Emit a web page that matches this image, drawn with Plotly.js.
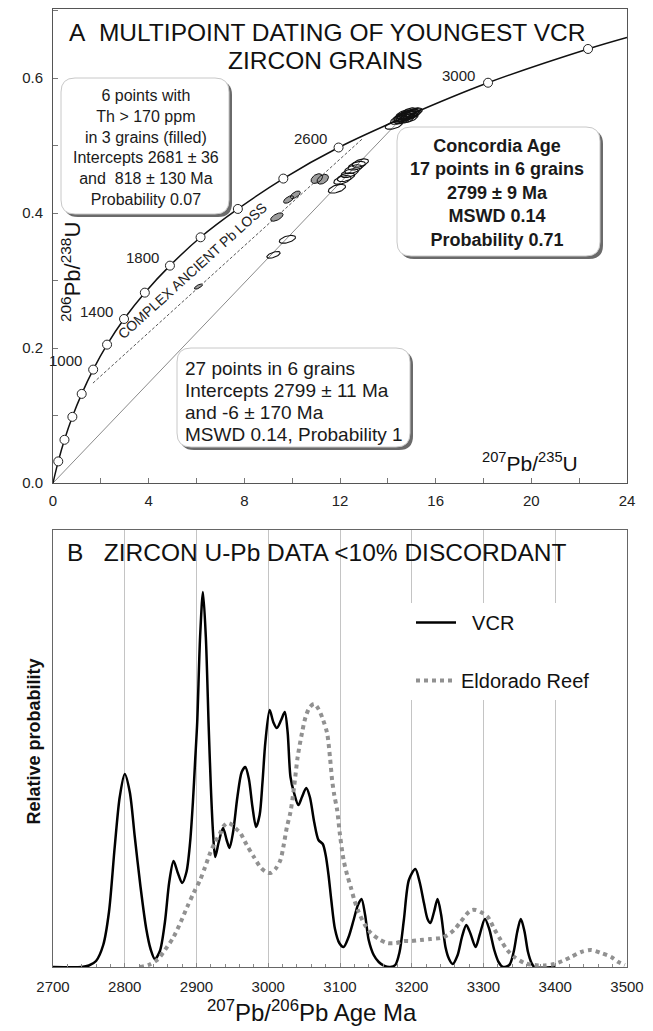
<!DOCTYPE html>
<html><head><meta charset="utf-8">
<script src="https://cdn.plot.ly/plotly-3.0.1.min.js"></script>
<style>html,body{margin:0;padding:0;background:#fff}#chart{width:653px;height:1031px}</style>
</head><body><div id="chart"></div>
<script>
// ---------- Panel A: concordia ----------
const concAges = [0,200,400,600,800,1000,1200,1400,1600,1800,2000,2200,2400,2600,2800,3000,3200];
const concX = [0,0.22,0.48,0.81,1.20,1.68,2.26,2.97,3.84,4.89,6.17,7.73,9.63,11.94,14.76,18.19,22.37];
const concY = [0,0.032,0.064,0.098,0.132,0.168,0.205,0.243,0.282,0.322,0.364,0.406,0.451,0.497,0.543,0.593,0.643];
const concEndX = [24.0];
const concEndY = [0.660];
const concLabels = ['1000','1400','1800','2600','3000'];

// discordia lines
const lowerLineX = [0, 14.3];
const lowerLineY = [0, 0.530];
const pbLossX = [1.67, 12.97];
const pbLossY = [0.148, 0.511];

// filled ellipses (Th > 170 ppm)
const filledX = [11.03, 11.28, 9.85, 10.13, 9.36, 6.08];
const filledY = [0.451, 0.450, 0.420, 0.427, 0.394, 0.291];
const filledSX = [0.24, 0.24, 0.21, 0.21, 0.26, 0.17];
const filledSY = [0.0072, 0.0072, 0.0056, 0.0056, 0.0062, 0.0038];
const filledRho = [0.4, 0.4, 0.6, 0.6, 0.6, 0.7];

// open ellipses (27 points)
const openX = [9.22, 9.80, 11.87, 12.10, 12.25, 12.40, 12.55, 12.70, 12.85, 14.25,
  14.45, 14.55, 14.62, 14.70, 14.75, 14.80, 14.85, 14.90, 14.95, 15.00, 15.05, 14.68, 14.78, 14.88, 14.60, 14.92, 15.10];
const openY = [0.338, 0.361, 0.436, 0.449, 0.453, 0.459, 0.465, 0.470, 0.474, 0.530,
  0.538, 0.541, 0.543, 0.542, 0.545, 0.544, 0.546, 0.544, 0.547, 0.546, 0.548, 0.546, 0.540, 0.549, 0.539, 0.541, 0.549];
const openSX = [0.28, 0.34, 0.36, 0.36, 0.36, 0.36, 0.36, 0.36, 0.34, 0.36,
  0.34, 0.34, 0.34, 0.34, 0.34, 0.34, 0.34, 0.34, 0.34, 0.34, 0.34, 0.34, 0.34, 0.34, 0.34, 0.34, 0.34];
const openSY = [0.0050, 0.0058, 0.0065, 0.0065, 0.0065, 0.0065, 0.0065, 0.0065, 0.0062, 0.0060,
  0.0068, 0.0068, 0.0068, 0.0068, 0.0068, 0.0068, 0.0068, 0.0068, 0.0068, 0.0068, 0.0068, 0.0068, 0.0068, 0.0068, 0.0068, 0.0068, 0.0068];
const openRho = [0.6, 0.5, 0.5, 0.5, 0.5, 0.5, 0.5, 0.5, 0.5, 0.5,
  0.5, 0.5, 0.5, 0.5, 0.5, 0.5, 0.5, 0.5, 0.5, 0.5, 0.5, 0.5, 0.5, 0.5, 0.5, 0.5, 0.5];

// ---------- Panel B: probability density ----------
const vcrAge = [2700,2740,2750,2760,2770,2778,2786,2793,2800,2807,2814,2822,2830,2836,2842,2849,2856,2862,2868,2874,2880,2886,2891,2895,2898,2901,2905,2909,2913,2917,2920,2923,2926,2931,2937,2942,2946,2951,2957,2963,2968,2973,2978,2983,2988,2992,2996,3002,3007,3012,3018,3023,3027,3031,3036,3042,3047,3053,3058,3064,3070,3076,3080,3084,3088,3093,3099,3105,3112,3119,3125,3130,3135,3140,3147,3154,3162,3170,3177,3183,3189,3196,3205,3211,3217,3222,3226,3231,3236,3241,3247,3252,3257,3264,3270,3276,3282,3289,3295,3302,3308,3315,3321,3327,3336,3342,3347,3352,3357,3362,3367,3371,3400];
const vcrProb = [0,0,1.5,6,22,55,120,170,193,175,130,80,38,18,8,16,45,85,106,94,84,95,124,165,205,245,330,375,330,240,180,135,110,125,139,127,119,135,170,195,200,188,160,140,152,185,225,257,245,239,247,255,235,190,174,162,170,179,170,145,127,123,112,92,66,38,24,20,30,47,62,68,52,27,12,5,1,0,2,15,47,87,98,85,64,48,44,55,68,52,20,8,3,12,30,42,33,20,33,48,38,17,5,0,2,15,35,48,36,15,4,0,0];
const eldAge = [2821,2833,2845,2856,2868,2878,2887,2896,2905,2912,2919,2926,2933,2938,2943,2948,2954,2961,2970,2980,2990,2997,3003,3010,3017,3021,3026,3031,3036,3041,3047,3052,3058,3064,3070,3076,3082,3086,3089,3092,3096,3100,3105,3110,3115,3120,3126,3134,3143,3154,3166,3178,3189,3200,3212,3226,3240,3250,3259,3268,3278,3284,3289,3296,3306,3315,3324,3333,3343,3357,3371,3385,3399,3410,3422,3436,3450,3464,3478,3488,3497];
const eldProb = [0,2,7,17,30,45,60,74,87,100,114,125,134,141,144,143,139,134,122,110,99,95,94,98,107,120,140,155,180,210,234,250,260,263,258,248,234,210,187,172,157,132,107,92,80,67,55,43,34,28,24,24,26,26,27,28,29,32,37,45,54,57,57,55,50,38,27,17,10,4,2,1.5,3,6,10,15,17,14,10,5,2];

// ---------- helpers ----------
const FONT = 'Liberation Sans, Arial, sans-serif';
const W = 653, H = 1031, ML = 53, MR = 26, MT = 9, MB = 64;
const PW = W - ML - MR, PH = H - MT - MB;
const X = px => (px - ML) / PW;
const Y = py => (H - MB - py) / PH;

function ellipses(cx, cy, sx, sy, rho) {
  const xs = [], ys = [], n = 48;
  for (let k = 0; k < cx.length; k++) {
    const r2 = Math.sqrt(1 - rho[k] * rho[k]);
    for (let i = 0; i <= n; i++) {
      const t = 2 * Math.PI * i / n;
      xs.push(cx[k] + sx[k] * Math.cos(t));
      ys.push(cy[k] + sy[k] * (rho[k] * Math.cos(t) + r2 * Math.sin(t)));
    }
    xs.push(null); ys.push(null);
  }
  return {xs, ys};
}
function roundRect(x0, y0, x1, y1, r) {
  const P = (x, y) => X(x) + ',' + Y(y);
  return 'M' + P(x0 + r, y0) + ' L' + P(x1 - r, y0) + ' Q' + P(x1, y0) + ' ' + P(x1, y0 + r) +
    ' L' + P(x1, y1 - r) + ' Q' + P(x1, y1) + ' ' + P(x1 - r, y1) +
    ' L' + P(x0 + r, y1) + ' Q' + P(x0, y1) + ' ' + P(x0, y1 - r) +
    ' L' + P(x0, y0 + r) + ' Q' + P(x0, y0) + ' ' + P(x0 + r, y0) + ' Z';
}
function box(x0, y0, x1, y1) {
  return [
    {type: 'path', xref: 'paper', yref: 'paper', layer: 'above', path: roundRect(x0 + 3, y0 + 3, x1 + 3, y1 + 3, 14),
     fillcolor: '#6a6a6a', line: {width: 0}},
    {type: 'path', xref: 'paper', yref: 'paper', layer: 'above', path: roundRect(x0, y0, x1, y1, 14),
     fillcolor: '#ffffff', line: {color: '#c8c8c8', width: 1}}
  ];
}

const fe = ellipses(filledX, filledY, filledSX, filledSY, filledRho);
const oe = ellipses(openX, openY, openSX, openSY, openRho);

const traces = [
  {x: lowerLineX, y: lowerLineY, xaxis: 'x', yaxis: 'y', mode: 'lines', line: {color: '#8a8a8a', width: 1}, showlegend: false, hoverinfo: 'skip'},
  {x: pbLossX, y: pbLossY, xaxis: 'x', yaxis: 'y', mode: 'lines', line: {color: '#555', width: 1, dash: '3px,2px'}, showlegend: false, hoverinfo: 'skip'},
  {x: concX.concat(concEndX), y: concY.concat(concEndY), xaxis: 'x', yaxis: 'y', mode: 'lines',
   line: {color: '#111', width: 1.5, shape: 'spline'}, showlegend: false, hoverinfo: 'skip'},
  {x: concX.slice(1), y: concY.slice(1), text: concAges.slice(1).map(a => a + ' Ma'), xaxis: 'x', yaxis: 'y', mode: 'markers',
   marker: {symbol: 'circle', size: 9, color: '#fff', line: {color: '#222', width: 1}}, showlegend: false},
  {x: fe.xs, y: fe.ys, xaxis: 'x', yaxis: 'y', mode: 'lines', fill: 'toself', fillcolor: '#9c9c9c',
   line: {color: '#111', width: 1}, showlegend: false, hoverinfo: 'skip'},
  {x: oe.xs, y: oe.ys, xaxis: 'x', yaxis: 'y', mode: 'lines',
   line: {color: '#111', width: 1.1}, showlegend: false, hoverinfo: 'skip'},
  {x: vcrAge, y: vcrProb, xaxis: 'x2', yaxis: 'y2', mode: 'lines', name: '\u00a0\u00a0VCR', legendgroup: 'a',
   line: {color: '#000', width: 2.5, shape: 'spline', smoothing: 0.8}},
  {x: eldAge, y: eldProb, xaxis: 'x2', yaxis: 'y2', mode: 'lines', name: 'Eldorado Reef', legendgroup: 'b',
   line: {color: '#919191', width: 4, dash: 'dot', shape: 'spline', smoothing: 0.8}}
];

const ann = [];
const A = (o) => ann.push(Object.assign({showarrow: false, xref: 'paper', yref: 'paper', xanchor: 'center', yanchor: 'middle',
  font: {family: FONT, size: 16, color: '#1a1a1a'}}, o));
// Panel titles
A({x: X(327), y: Y(32), text: 'A\u00a0\u00a0MULTIPOINT DATING OF YOUNGEST VCR', font: {family: FONT, size: 24.5, color: '#111'}});
A({x: X(325), y: Y(60), text: 'ZIRCON GRAINS', font: {family: FONT, size: 24.5, color: '#111'}});
A({x: X(65), y: Y(552), xanchor: 'left', text: 'B\u00a0\u00a0\u00a0ZIRCON U-Pb DATA &lt;10% DISCORDANT', font: {family: FONT, size: 24.5, color: '#111'}});
// concordia age labels
const labPos = [[65, 361], [96, 311], [142, 257], [310, 138], [458, 75]];
concLabels.forEach((t, i) => A({x: X(labPos[i][0]), y: Y(labPos[i][1]), text: t, font: {family: FONT, size: 15, color: '#222'}}));
// Pb loss label
A({x: X(192), y: Y(271), text: 'COMPLEX ANCIENT Pb LOSS', textangle: -42.2, font: {family: FONT, size: 14, color: '#222'}});
// axis titles
A({x: X(71), y: Y(272), text: '<sup>206</sup>Pb/<sup>238</sup>U', textangle: -90, font: {family: FONT, size: 22, color: '#111'}});
A({x: X(530), y: Y(462), text: '<sup>207</sup>Pb/<sup>235</sup>U', font: {family: FONT, size: 21, color: '#111'}});
A({x: X(312), y: Y(1011), text: '<sup>207</sup>Pb/<sup>206</sup>Pb Age Ma', font: {family: FONT, size: 24, color: '#111'}});
A({x: X(33.5), y: Y(742), text: '<b>Relative probability</b>', textangle: -90, font: {family: FONT, size: 18, color: '#111'}});
// box texts
A({x: X(145.5), y: Y(147.5), align: 'center',
   text: '6 points with<br>Th &gt; 170 ppm<br>in 3 grains (filled)<br>Intercepts 2681 ± 36<br>and \u00a0818 ± 130 Ma<br>Probability 0.07',
   font: {family: FONT, size: 16, color: '#1a1a1a'}});
A({x: X(497), y: Y(192.5), align: 'center',
   text: '<b>Concordia Age<br>17 points in 6 grains<br>2799 ± 9 Ma<br>MSWD 0.14<br>Probability 0.71</b>',
   font: {family: FONT, size: 18, color: '#1a1a1a'}});
const box3 = ['27 points in 6 grains', 'Intercepts 2799 ± 11 Ma', 'and -6 ± 170 Ma', 'MSWD 0.14, Probability 1'];
box3.forEach((t, i) => A({x: X(183), y: Y(368 + i * 22.3), xanchor: 'left', text: t,
   font: {family: FONT, size: 19, color: '#1a1a1a'}}));

const shapes = [].concat(box(61, 78, 229, 214), box(397, 127, 600, 256), box(177, 348, 410, 447));

const axA = {showgrid: false, zeroline: false, showline: true, mirror: true, linecolor: '#555', linewidth: 1,
  ticks: 'inside', ticklen: 5, tickcolor: '#777', tickfont: {family: FONT, size: 15, color: '#222'}};

const layout = {
  width: W, height: H, margin: {l: ML, r: MR, t: MT, b: MB}, paper_bgcolor: '#fff', plot_bgcolor: '#fff',
  font: {family: FONT},
  xaxis: Object.assign({}, axA, {domain: [0, 1], anchor: 'y', range: [0, 24], dtick: 4, tick0: 0,
    minor: {dtick: 2, ticks: 'inside', ticklen: 5, tickcolor: '#777'}, ticklabelstandoff: 4}),
  yaxis: Object.assign({}, axA, {domain: [Y(483), 1], anchor: 'x', range: [0, (483 - 9) / 675], dtick: 0.2, tick0: 0,
    tickformat: '.1f', minor: {dtick: 0.1, ticks: 'inside', ticklen: 5, tickcolor: '#777'}, ticklabelstandoff: 6}),
  xaxis2: {domain: [0, 1], anchor: 'y2', range: [2700, 3500], dtick: 100, tick0: 2700, showgrid: true, gridcolor: '#c4c4c4',
    gridwidth: 1, zeroline: false, showline: true, mirror: true, linecolor: '#666', ticks: 'inside', ticklen: 4, tickcolor: '#888',
    minor: {dtick: 20, ticks: 'inside', ticklen: 3, tickcolor: '#888', showgrid: false},
    tickfont: {family: FONT, size: 15, color: '#222'}, ticklabelstandoff: 6},
  yaxis2: {domain: [0, Y(530)], anchor: 'x2', range: [0, 437], showgrid: false, zeroline: false, showline: true, mirror: true,
    linecolor: '#666', showticklabels: false, ticks: ''},
  showlegend: true,
  legend: {x: X(411), y: Y(603), xanchor: 'left', yanchor: 'top', bgcolor: '#fff', borderwidth: 0,
    font: {family: FONT, size: 20, color: '#111'}, tracegroupgap: 29, itemwidth: 40, traceorder: 'grouped'},
  annotations: ann,
  shapes: shapes
};

Plotly.newPlot('chart', traces, layout, {displayModeBar: false, staticPlot: true});
</script>
</body></html>
